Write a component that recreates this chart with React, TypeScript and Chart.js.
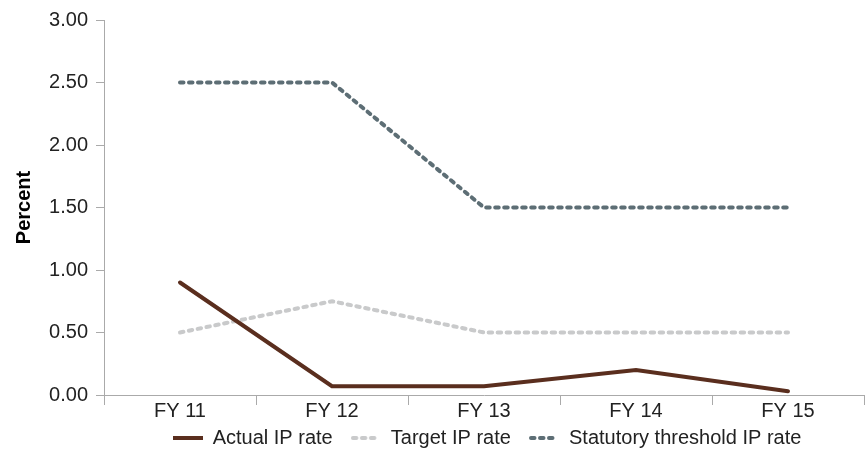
import React, { useEffect, useRef } from "react";
import { Chart, registerables } from "chart.js";

Chart.register(...registerables);

const categories = ["FY 11", "FY 12", "FY 13", "FY 14", "FY 15"];
const actualRate = [0.9, 0.07, 0.07, 0.2, 0.03];
const targetRate = [0.5, 0.75, 0.5, 0.5, 0.5];
const statutoryRate = [2.5, 2.5, 1.5, 1.5, 1.5];
const seriesNames = ["Actual IP rate", "Target IP rate", "Statutory threshold IP rate"];

const FONT = "'Liberation Sans', Helvetica, Arial, sans-serif";

const shiftLegend = {
  id: "shiftLegend",
  afterLayout(chart: any) {
    if (chart.legend) {
      chart.legend.left += 55;
      chart.legend.right += 55;
    }
  },
};

function makeSwatch(color: string, dash: number[], width: number) {
  const c = document.createElement("canvas");
  c.width = 30;
  c.height = 8;
  const ctx = c.getContext("2d");
  if (ctx) {
    ctx.strokeStyle = color;
    ctx.lineWidth = width;
    ctx.lineCap = dash.length ? "round" : "butt";
    ctx.setLineDash(dash);
    ctx.beginPath();
    ctx.moveTo(dash.length ? 2 : 0, 4);
    ctx.lineTo(dash.length ? 29 : 30, 4);
    ctx.stroke();
  }
  return c;
}

export default function App() {
  const ref = useRef<HTMLCanvasElement | null>(null);
  useEffect(() => {
    if (!ref.current) return;
    const defaultLabels = Chart.defaults.plugins.legend.labels.generateLabels;
    const chart = new Chart(ref.current, {
      type: "line",
      data: {
        labels: categories,
        datasets: [
          {
            label: seriesNames[0],
            data: actualRate,
            borderColor: "#5a2e1e",
            backgroundColor: "#5a2e1e",
            borderWidth: 4,
            pointRadius: 0,
            borderCapStyle: "round",
            tension: 0,
          },
          {
            label: seriesNames[1],
            data: targetRate,
            borderColor: "#c9cacb",
            backgroundColor: "#c9cacb",
            borderWidth: 4,
            borderDash: [3.5, 5.5],
            borderCapStyle: "round",
            pointRadius: 0,
            tension: 0,
          },
          {
            label: seriesNames[2],
            data: statutoryRate,
            borderColor: "#5d6e75",
            backgroundColor: "#5d6e75",
            borderWidth: 4,
            borderDash: [3.5, 5.5],
            borderCapStyle: "round",
            pointRadius: 0,
            tension: 0,
          },
        ],
      },
      plugins: [shiftLegend],
      options: {
        animation: false,
        responsive: true,
        maintainAspectRatio: false,
        layout: { padding: { left: 0, right: 2, top: 20, bottom: -4 } },
        plugins: {
          tooltip: { enabled: false },
          legend: {
            position: "bottom",
            labels: {
              usePointStyle: true,
              pointStyle: "line",
              pointStyleWidth: 30,
              color: "#222",
              font: { family: FONT, size: 20 },
              padding: 7,
              generateLabels: (c: any) => {
                const items = defaultLabels(c);
                return items.map((it: any, i: number) => {
                  const ds = c.data.datasets[it.datasetIndex];
                  const swatch = makeSwatch(
                    ds.borderColor as string,
                    (ds.borderDash as number[]) || [],
                    ds.borderWidth as number
                  );
                  return {
                    ...it,
                    pointStyle: swatch,
                    text: i < items.length - 1 ? it.text + "  " : it.text,
                  };
                });
              },
            },
          },
        },
        scales: {
          x: {
            offset: true,
            grid: {
              offset: true,
              drawOnChartArea: false,
              drawTicks: true,
              tickLength: 10,
              color: "#aaaaaa",
            },
            border: { color: "#aaaaaa" },
            ticks: {
              color: "#222",
              font: { family: FONT, size: 20 },
              padding: -6,
            },
            afterFit: (scale: any) => {
              scale.height = 26;
            },
          },
          y: {
            min: 0,
            max: 3,
            grid: {
              drawOnChartArea: false,
              drawTicks: true,
              tickLength: 8,
              color: "#aaaaaa",
            },
            border: { color: "#aaaaaa" },
            ticks: {
              stepSize: 0.5,
              color: "#222",
              font: { family: FONT, size: 20 },
              padding: 8,
              callback: (v: any) => Number(v).toFixed(2),
            },
            title: {
              display: true,
              text: "Percent",
              color: "#000",
              font: { family: FONT, size: 20, weight: "bold" },
              padding: { top: 12, bottom: 4 },
            },
            afterFit: (scale: any) => {
              scale.width = 104;
            },
          },
        },
      },
    });
    return () => chart.destroy();
  }, []);
  return (
    <div style={{ position: "absolute", left: 0, top: 0, width: 866, height: 454 }}>
      <canvas ref={ref} />
    </div>
  );
}
